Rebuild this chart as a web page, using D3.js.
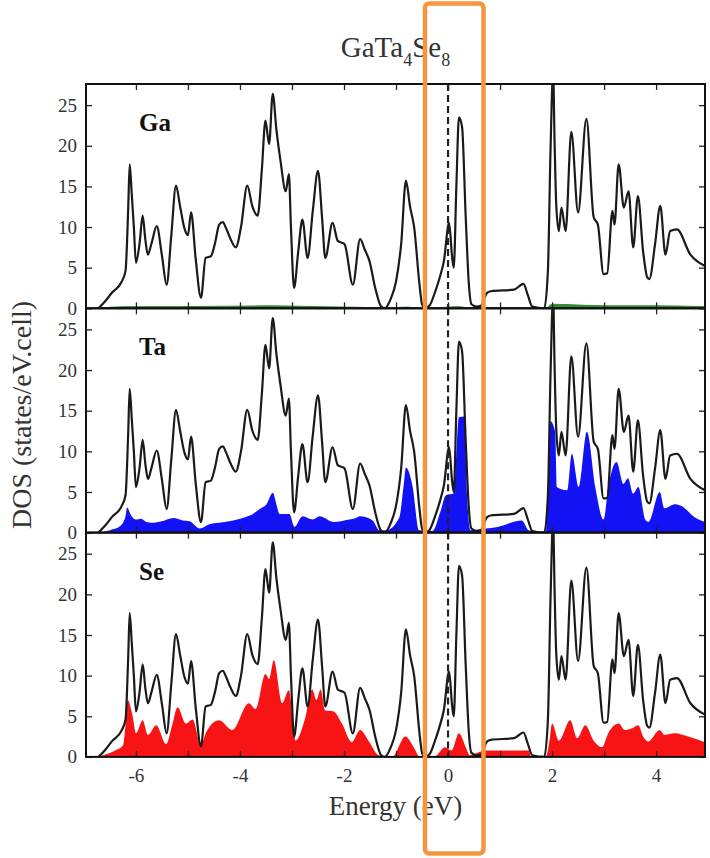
<!DOCTYPE html>
<html><head><meta charset="utf-8">
<script src="https://cdn.jsdelivr.net/npm/d3@7"></script>
<style>body{margin:0;background:#fff} svg{display:block}</style>
</head><body><svg id="c" width="710" height="858"></svg>
<script>
// ---- data (energy in eV, DOS in states/eV.cell) ----
const totalE = [-6.72,-6.6,-6.45,-6.28,-6.2,-6.15,-6.12,-6.08,-6.04,-6.0,-5.93,-5.87,-5.82,-5.77,-5.7,-5.6,-5.5,-5.41,-5.32,-5.23,-5.15,-5.07,-5.0,-4.94,-4.85,-4.75,-4.66,-4.56,-4.48,-4.4,-4.33,-4.27,-4.18,-4.08,-3.98,-3.86,-3.76,-3.66,-3.58,-3.51,-3.44,-3.37,-3.3,-3.22,-3.12,-3.06,-3.02,-2.96,-2.88,-2.8,-2.7,-2.6,-2.5,-2.42,-2.36,-2.22,-2.12,-1.99,-1.83,-1.69,-1.6,-1.51,-1.4,-1.29,-1.22,-1.1,-1.0,-0.9,-0.81,-0.73,-0.65,-0.55,-0.5,-0.45,-0.36,-0.25,-0.15,-0.08,0.02,0.08,0.11,0.16,0.21,0.27,0.34,0.4,0.45,0.55,0.63,0.75,0.82,1.27,1.45,1.53,1.62,1.85,1.92,1.97,2.02,2.05,2.08,2.13,2.18,2.26,2.37,2.5,2.66,2.8,2.88,2.99,3.06,3.16,3.2,3.28,3.38,3.47,3.56,3.65,3.75,3.83,3.87,3.98,4.08,4.18,4.27,4.4,4.66,4.94];
const totalDOS = [0,0.8,2.0,3.2,4.6,12,17.7,14,10,5.6,8,11.4,8.5,6.6,8,10.1,6.5,2.9,9,15.1,12.5,9.9,9,11.8,6,1.3,6.2,6.4,8,10.3,10.6,9.9,8.5,7.5,10,15.1,12.5,11.4,17,23.1,20.2,26.4,22,18.1,14.4,16.5,10,2.5,7,10.9,6.2,12,16.9,11,6.2,10.5,8.3,7.9,2.9,8.5,7.2,5.8,2.5,0.25,0,1.2,3.3,8,15.7,12.5,9.9,3,0.5,0,0.3,2,4,5.8,10.5,6.2,5.0,15,23.5,22.3,11.2,3,0.5,0.2,0.3,1.9,2.1,2.3,3.0,1.7,0.2,0,4.6,19.4,29,20,12.8,9.5,12.4,9.5,21.7,11.8,23.3,11.2,10.3,4.2,4.3,12.0,10.3,17.7,12.4,14.4,7.5,13.8,7,3.8,3.6,7.9,12.6,6.6,9.5,9.7,6.6,5.2];

const gaE = [-6.72,-6.2,-5.2,-3.4,-2.5,-1.3,-1.22,-0.8,-0.45,-0.36,0.2,0.45,0.75,1.5,1.6,1.88,2.0,2.5,3.0,3.5,4.0,4.94];
const gaDOS = [0,0.2,0.2,0.3,0.2,0.05,0,0.15,0,0,0.2,0,0.1,0.1,0,0,0.5,0.4,0.3,0.3,0.3,0.2];

const taE = [-6.72,-6.5,-6.3,-6.2,-6.17,-6.1,-6.0,-5.9,-5.8,-5.7,-5.5,-5.28,-5.1,-4.97,-4.77,-4.6,-4.4,-4.13,-3.9,-3.75,-3.6,-3.49,-3.37,-3.3,-3.24,-3.05,-2.95,-2.8,-2.6,-2.47,-2.2,-1.9,-1.77,-1.7,-1.45,-1.32,-1.19,-0.94,-0.85,-0.81,-0.68,-0.56,-0.3,-0.15,-0.04,0.11,0.21,0.31,0.37,0.43,0.72,0.95,1.42,1.55,1.88,1.93,1.97,2.06,2.09,2.29,2.38,2.51,2.67,2.83,2.99,3.08,3.24,3.37,3.46,3.56,3.66,3.79,3.85,4.07,4.16,4.36,4.48,4.74,4.94];
const taDOS = [0,0.3,0.8,2.0,3.1,2.2,1.6,1.7,1.3,1.2,1.4,1.8,1.5,1.4,0.5,1.0,1.2,1.5,1.9,2.3,3.0,3.5,4.9,3.5,2.3,2.3,0.7,2.0,1.6,2.0,1.3,1.6,1.8,2.0,1.5,0.3,0.3,1.8,6,8.0,5.6,0.3,0.2,2.5,4.6,4.8,14.2,14.3,4.0,0.3,0.5,0.7,1.5,0.3,0,8,13.7,12.4,5.6,5.2,9.7,5.6,12.4,5.6,1.6,5.6,8.7,6.0,6.7,4.8,5.6,1.6,1.3,5.0,3.0,3.5,3.3,1.9,1.3];

const seE = [-6.72,-6.63,-6.4,-6.25,-6.2,-6.16,-6.06,-6.0,-5.87,-5.77,-5.61,-5.42,-5.3,-5.2,-5.04,-4.91,-4.75,-4.66,-4.4,-4.15,-3.83,-3.7,-3.51,-3.44,-3.35,-3.19,-3.06,-2.93,-2.74,-2.61,-2.53,-2.45,-2.36,-2.2,-2.04,-1.85,-1.69,-1.53,-1.33,-1.07,-0.82,-0.66,-0.55,-0.25,-0.06,0.07,0.21,0.34,0.42,0.6,0.72,1.55,1.6,1.88,1.95,2.0,2.13,2.35,2.48,2.64,2.8,2.96,3.08,3.28,3.4,3.53,3.66,3.75,3.85,4.07,4.16,4.36,4.62,4.94];
const seDOS = [0,0.2,0.8,1.4,4,7.0,4.9,2.9,4.5,2.7,3.9,1.6,4,6.1,4.1,4.6,1.4,2.9,4.5,3.3,6.6,5.9,10.2,9.6,11.9,6.6,8.2,2.0,4.9,8.3,7.0,8.3,5.7,5.6,4.1,1.8,3.3,2.0,0.2,0,2.5,1.2,0.1,0.1,1.2,0.8,2.9,1.2,0.2,0.6,0.8,0.8,0,0,2,4.1,2.0,4.5,2.3,3.9,2.0,1.2,2.9,4.1,3.3,3.5,3.9,2.5,1.9,3.3,2.7,2.9,2.5,1.8];

const panelNames = ["Ga","Ta","Se"];
const panelColors = ["#2e8b2e","#1212f5","#f81414"];
const yTicks = [0,5,10,15,20,25];
const xTicks = [-6,-5,-4,-3,-2,-1,0,1,2,3,4];
const xLabelTicks = [-6,-4,-2,0,2,4];
const titleParts = [["GaTa","4"],["Se","8"]];

// ---- layout ----
const svg = d3.select("#c");
const L = 86, R = 705, T0 = 84, PH = 224.3;
const x = d3.scaleLinear().domain([-6.96, 4.94]).range([L, R]);
const font = "Liberation Serif, Times New Roman, serif";
const curve = d3.curveMonotoneX;

const partials = [
  gaE.map((e,i)=>({e, v:gaDOS[i]})),
  taE.map((e,i)=>({e, v:taDOS[i]})),
  seE.map((e,i)=>({e, v:seDOS[i]}))
];
const total = totalE.map((e,i)=>({e, v:totalDOS[i]}));

panelNames.forEach((name, p) => {
  const top = T0 + p*PH, bot = top + PH;
  const y = d3.scaleLinear().domain([0, 27.6]).range([bot, top]);
  const g = svg.append("g");
  const cid = "clip"+p;
  svg.append("clipPath").attr("id", cid).append("rect")
    .attr("x", L).attr("y", top).attr("width", R-L).attr("height", PH);
  const inner = g.append("g").attr("clip-path", `url(#${cid})`);

  inner.append("path").datum(partials[p])
    .attr("fill", panelColors[p])
    .attr("stroke", p===0 ? panelColors[p] : "none")
    .attr("stroke-width", 1)
    .attr("d", d3.area().curve(curve).x(d=>x(d.e)).y0(y(0)).y1(d=>y(d.v)));

  inner.append("path").datum(total)
    .attr("fill", "none").attr("stroke", "#1a1a1a").attr("stroke-width", 2.2)
    .attr("stroke-linejoin", "round")
    .attr("d", d3.line().curve(curve).x(d=>x(d.e)).y(d=>y(d.v)));

  inner.append("line")
    .attr("x1", x(0)).attr("x2", x(0)).attr("y1", top).attr("y2", bot)
    .attr("stroke", "#222").attr("stroke-width", 2.2).attr("stroke-dasharray", "7,4");

  const axL = g.append("g").attr("transform", `translate(${L},0)`)
    .call(d3.axisLeft(y).tickValues(yTicks).tickSize(-6).tickPadding(9));
  const axR = g.append("g").attr("transform", `translate(${R},0)`)
    .call(d3.axisRight(y).tickValues(yTicks).tickSize(-6).tickFormat(""));
  const axT = g.append("g").attr("transform", `translate(0,${top})`)
    .call(d3.axisTop(x).tickValues(xTicks).tickSize(-6).tickFormat(""));
  const axB = g.append("g").attr("transform", `translate(0,${bot})`)
    .call(d3.axisBottom(x).tickValues(xTicks).tickSize(-6).tickPadding(12)
      .tickFormat(d => (p===2 && xLabelTicks.includes(d)) ? String(d) : ""));
  [axL, axR, axT, axB].forEach(a => {
    a.attr("font-family", font).attr("font-size", 19);
    a.select(".domain").remove();
    a.selectAll("line").attr("stroke", "#222").attr("stroke-width", 1.3);
    a.selectAll("text").style("font-family", font).style("font-size", "19px").attr("fill", "#333");
  });

  g.append("rect").attr("x", L).attr("y", top).attr("width", R-L).attr("height", PH)
    .attr("fill", "none").attr("stroke", "#111").attr("stroke-width", 2);

  g.append("text").attr("x", 139).attr("y", top+47)
    .style("font-family", font).attr("font-weight", "bold").attr("font-size", 25)
    .attr("fill", "#111").text(name);
});

// title with subscripts
const tt = svg.append("text").attr("x", (L+R)/2).attr("y", 57).attr("text-anchor", "middle")
  .style("font-family", font).attr("font-size", 29).attr("fill", "#333");
titleParts.forEach(([m, s], i) => {
  tt.append("tspan").attr("dy", i===0 ? 0 : -9).text(m);
  tt.append("tspan").attr("font-size", 18).attr("dy", 9).text(s);
});

svg.append("text").attr("x", (L+R)/2).attr("y", 815).attr("text-anchor", "middle")
  .style("font-family", font).attr("font-size", 27).attr("fill", "#333").text("Energy (eV)");
svg.append("text").attr("transform", "translate(31,415) rotate(-90)").attr("text-anchor", "middle")
  .style("font-family", font).attr("font-size", 28).attr("fill", "#333").text("DOS (states/eV.cell)");

svg.append("rect").attr("x", 425).attr("y", 3.5).attr("width", 58.5).attr("height", 850)
  .attr("rx", 4).attr("fill", "none").attr("stroke", "#f5963f").attr("stroke-width", 4.5);
</script></body></html>
